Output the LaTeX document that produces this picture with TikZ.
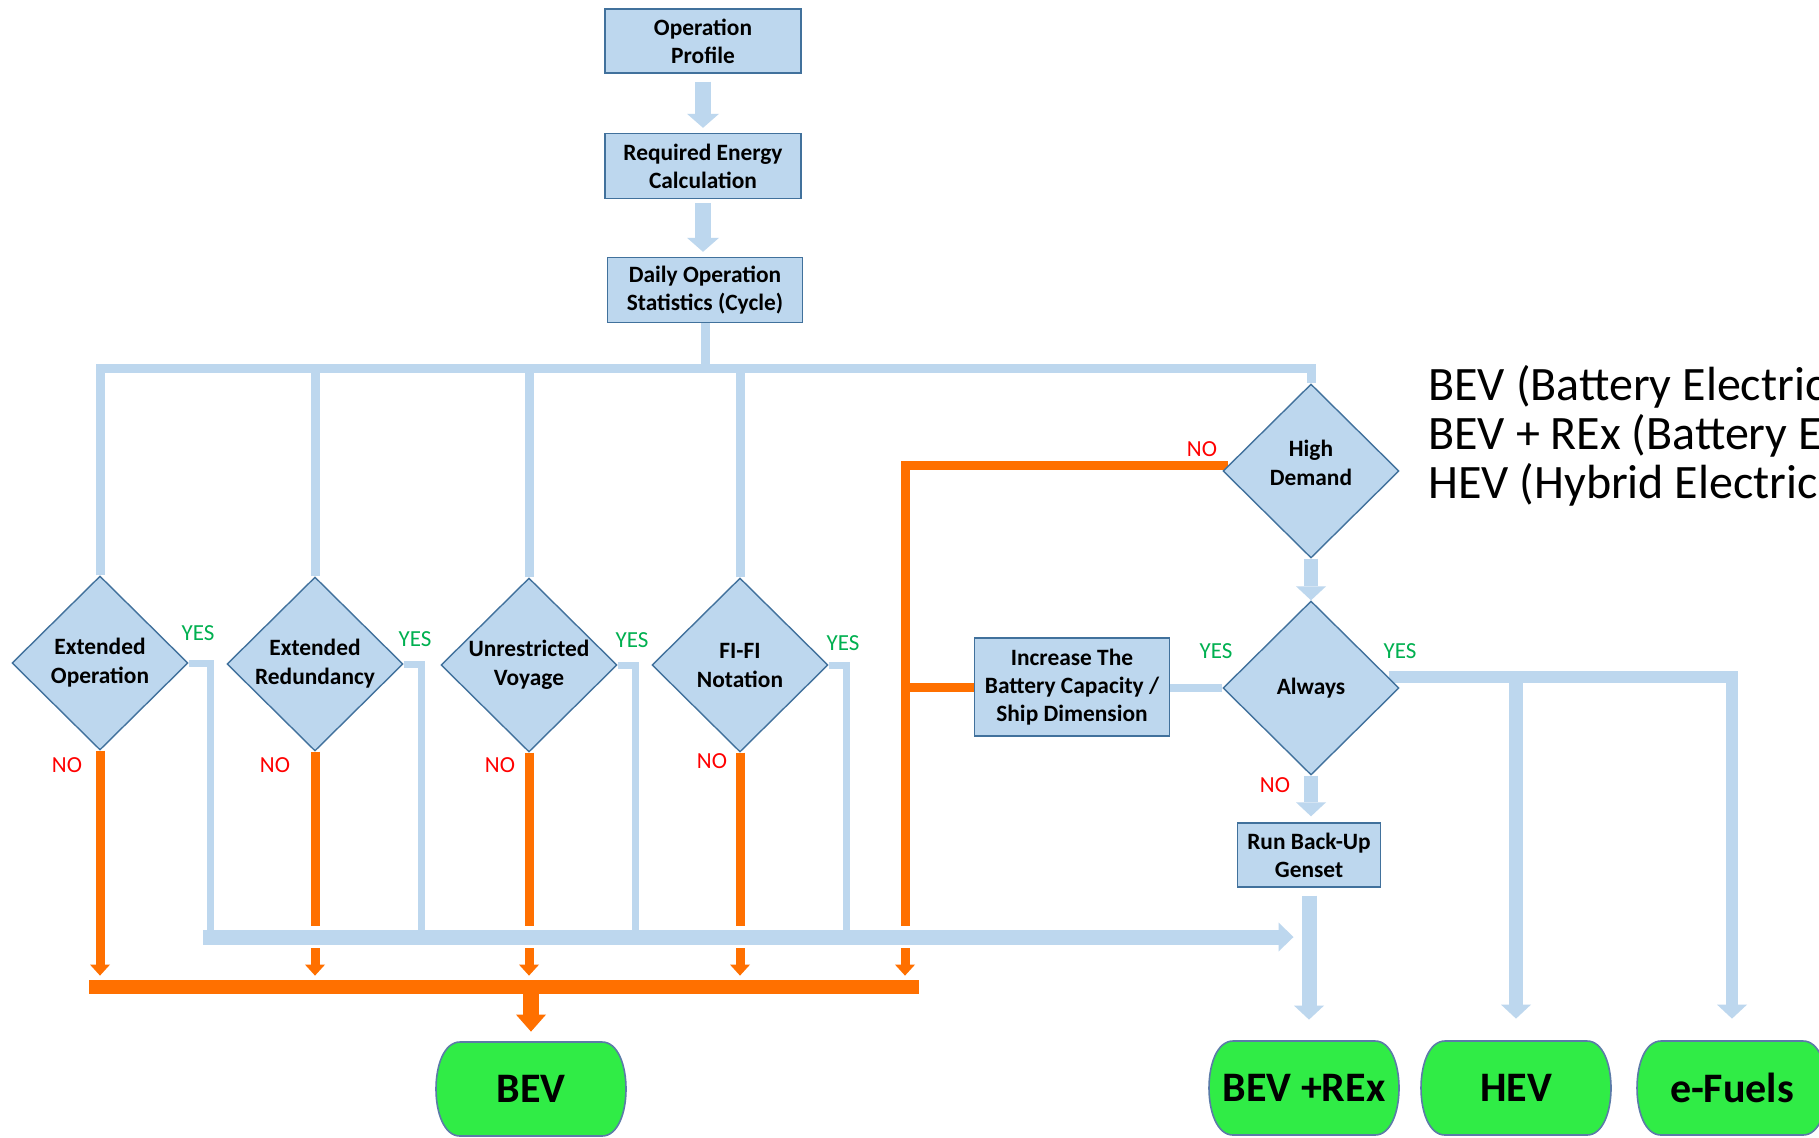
\documentclass[tikz,border=0pt]{standalone}
\usepackage{fontspec}
\setmainfont{Carlito}
\usetikzlibrary{shapes.geometric,arrows.meta,calc,backgrounds}

\definecolor{paleblue}{HTML}{BDD7EE}
\definecolor{edgeblue}{HTML}{41719C}
\definecolor{noorange}{HTML}{FF7000}
\definecolor{termgreen}{HTML}{30EC46}
\definecolor{termedge}{HTML}{5B7BA8}
\definecolor{yesgreen}{HTML}{00B050}
\definecolor{nored}{HTML}{FF0000}

% terminal: flat top and bottom, bulging sides
\newcommand\drawterminal[4]{%
  \path[termfill] (#2-71,#3-47) -- (#2+71,#3-47)
    .. controls (#2+103,#3-47) and (#2+103,#3+47) .. (#2+71,#3+47)
    -- (#2-71,#3+47)
    .. controls (#2-103,#3+47) and (#2-103,#3-47) .. (#2-71,#3-47) -- cycle;
  \node[termtext] (#1) at (#2,#3) {#4};}

\begin{document}
\begin{tikzpicture}[x=0.5pt,y=-0.5pt,
  procbox/.style={draw=edgeblue, line width=0.7pt, fill=paleblue, align=center,
    inner sep=0pt, text=black, font=\bfseries\fontsize{11.7}{14}\selectfont},
  decision/.style={diamond, draw=edgeblue, line width=0.7pt, fill=paleblue, align=center,
    inner sep=0pt, minimum width=88pt, minimum height=87pt, text=black,
    font=\bfseries\fontsize{11.7}{14.5}\selectfont},
  dtext/.style={align=center, inner sep=0pt, text=black,
    font=\bfseries\fontsize{11.7}{14.5}\selectfont},
  termfill/.style={fill=termgreen, draw=termedge, line width=0.8pt},
  termtext/.style={inner sep=0pt, minimum width=95pt, minimum height=47pt,
    font=\bfseries\fontsize{21}{24}\selectfont},
  yeslbl/.style={inner sep=0pt, text=yesgreen, font=\fontsize{11.5}{13}\selectfont},
  nolbl/.style={inner sep=0pt, text=nored, font=\fontsize{11.5}{13}\selectfont},
  legendtxt/.style={inner sep=0pt, anchor=base west, font=\fontsize{24}{28}\selectfont},
  mainarrow/.style={draw=paleblue, line width=8pt,
    -{Triangle[width=16pt,length=7pt,line width=0pt]}},
  sidearrow/.style={draw=paleblue, line width=7pt,
    -{Triangle[width=15pt,length=7pt,line width=0pt]}},
  busline/.style={draw=paleblue, line width=4.5pt},
  yesline/.style={draw=paleblue, line width=3.5pt},
  linkline/.style={draw=paleblue, line width=4pt},
  yesbus/.style={draw=paleblue, line width=7.5pt,
    -{Triangle[width=14.5pt,length=7.5pt,line width=0pt]}},
  noline/.style={draw=noorange, line width=4.5pt},
  noarrow/.style={draw=noorange, line width=4.5pt,
    -{Triangle[width=10pt,length=5.5pt,line width=0pt]}},
  nobig/.style={draw=noorange, line width=8pt,
    -{Triangle[width=15pt,length=8.5pt,line width=0pt]}},
  nobarsty/.style={fill=noorange, inner sep=0pt, minimum width=415pt, minimum height=7pt},
]
\useasboundingbox (0,0) rectangle (1819,1137);
\clip (0,0) rectangle (1819,1137);

% process boxes
\node[procbox, minimum width=98pt, minimum height=32pt] (op) at (703,41) {Operation\\Profile};
\node[procbox, minimum width=98pt, minimum height=32.5pt] (req) at (703,166) {Required Energy\\Calculation};
\node[procbox, minimum width=97.5pt, minimum height=32.5pt] (daily) at (705,290) {Daily Operation\\Statistics (Cycle)};
\node[procbox, minimum width=97.5pt, minimum height=49pt] (inc) at (1072,687) {Increase The\\Battery Capacity /\\Ship Dimension};
\node[procbox, minimum width=71.5pt, minimum height=32pt] (rbu) at (1309,855) {Run Back-Up\\Genset};

% decisions
\node[decision] (d1) at (100,663) {Extended\\Operation};
\node[decision] (d2) at (315,664) {Extended\\Redundancy};
\node[decision] (d3) at (529,665) {Unrestricted\\Voyage};
\node[decision] (d4) at (740,665) {FI-FI\\Notation};
\node[decision] (hd) at (1311,471) {};
\node[dtext] (hdtext) at (1311,463) {High\\Demand};
\node[decision] (alw) at (1311,688) {Always};

% outcomes
\drawterminal{bev}{531}{1089}{BEV}
\drawterminal{bevrex}{1304}{1088}{BEV +REx}
\drawterminal{hev}{1516}{1088}{HEV}
\drawterminal{ef}{1732}{1088}{e-Fuels}

% collecting bar of the NO branches
\node[nobarsty] (nobar) at (504,987) {};

% branch labels
\node[yeslbl] (y1) at (198,633) {YES};
\node[yeslbl] (y2) at (415,639) {YES};
\node[yeslbl] (y3) at (632,640) {YES};
\node[yeslbl] (y4) at (843,643) {YES};
\node[yeslbl] (y5) at (1216,651) {YES};
\node[yeslbl] (y6) at (1400,651) {YES};
\node[nolbl] (n1) at (67,765) {NO};
\node[nolbl] (n2) at (275,765) {NO};
\node[nolbl] (n3) at (500,765) {NO};
\node[nolbl] (n4) at (712,761) {NO};
\node[nolbl] (n5) at (1202,449) {NO};
\node[nolbl] (n6) at (1275,785) {NO};

% abbreviations
\node[legendtxt] (leg1) at (1428,400) {BEV (Battery Electric};
\node[legendtxt] (leg2) at (1428,449) {BEV + REx (Battery E};
\node[legendtxt] (leg3) at (1428,498) {HEV (Hybrid Electric};

% connector anchors
\coordinate (busR) at (1311,368);
\coordinate (yb1) at (210,937);
\coordinate (yb2) at (421,937);
\coordinate (yb3) at (635,937);
\coordinate (yb4) at (846,937);
\coordinate (ybL) at (203,937);
\coordinate (ovx) at (905,471);

\begin{scope}[on background layer]
  \fill[white] (0,0) rectangle (1819,1137);

  % main chain
  \draw[mainarrow, shorten <=4pt, shorten >=2.5pt] (op.south) -- (req.north);
  \draw[mainarrow, shorten <=2pt, shorten >=2.5pt] (req.south) -- (req.south |- daily.north);

  % distribution bus
  \draw[busline] (daily.south) -- (daily.south |- busR);
  \draw[busline] (d1.north) |- (busR) -- (hd.north);
  \draw[busline] (d2.north) -- (d2.north |- busR);
  \draw[busline] (d3.north) -- (d3.north |- busR);
  \draw[busline] (d4.north) -- (d4.north |- busR);

  % NO branches into the orange bar
  \draw[noarrow, shorten >=2pt] (d1.south) -- (d1.south |- nobar.north);
  \draw[noarrow, shorten >=2pt] (d2.south) -- (d2.south |- nobar.north);
  \draw[noarrow, shorten >=2pt] (d3.south) -- (d3.south |- nobar.north);
  \draw[noarrow, shorten >=2pt] (d4.south) -- (d4.south |- nobar.north);
  \draw[noarrow, shorten >=2pt] (hd.176) -| (nobar.north -| ovx);
  \draw[noline] (inc.west) -- (inc.west -| ovx);
  \draw[nobig, shorten >=5pt] (bev.north |- nobar.south) -- (bev.north);

  % white gap where the YES bus crosses the orange lines
  \draw[white, line width=11pt] (ybL) -- ($(ybL -| rbu.south)+(-30,0)$);

  % YES branches
  \draw[yesline] (d1.east) -| (yb1);
  \draw[yesline] (d2.east) -| (yb2);
  \draw[yesline] (d3.east) -| (yb3);
  \draw[yesline] (d4.east) -| (yb4);
  \draw[yesbus, shorten >=7.75pt] (ybL) -- (ybL -| rbu.south);

  % right-hand column
  \draw[sidearrow] (hd.south) -- (alw.north);
  \draw[linkline] (alw.west) -- (alw.west -| inc.east);
  \draw[sidearrow, shorten >=3pt] (alw.south) -- (alw.south |- rbu.north);
  \draw[sidearrow, line width=7.5pt, shorten <=4pt, shorten >=10.5pt] (rbu.south) -- (rbu.south |- bevrex.north);
  \draw[sidearrow, line width=6pt, shorten >=11pt] (alw.8) -| (ef.north);
  \draw[sidearrow, shorten >=11pt] (alw.8 -| hev.north) -- (hev.north);
\end{scope}
\end{tikzpicture}
\end{document}
